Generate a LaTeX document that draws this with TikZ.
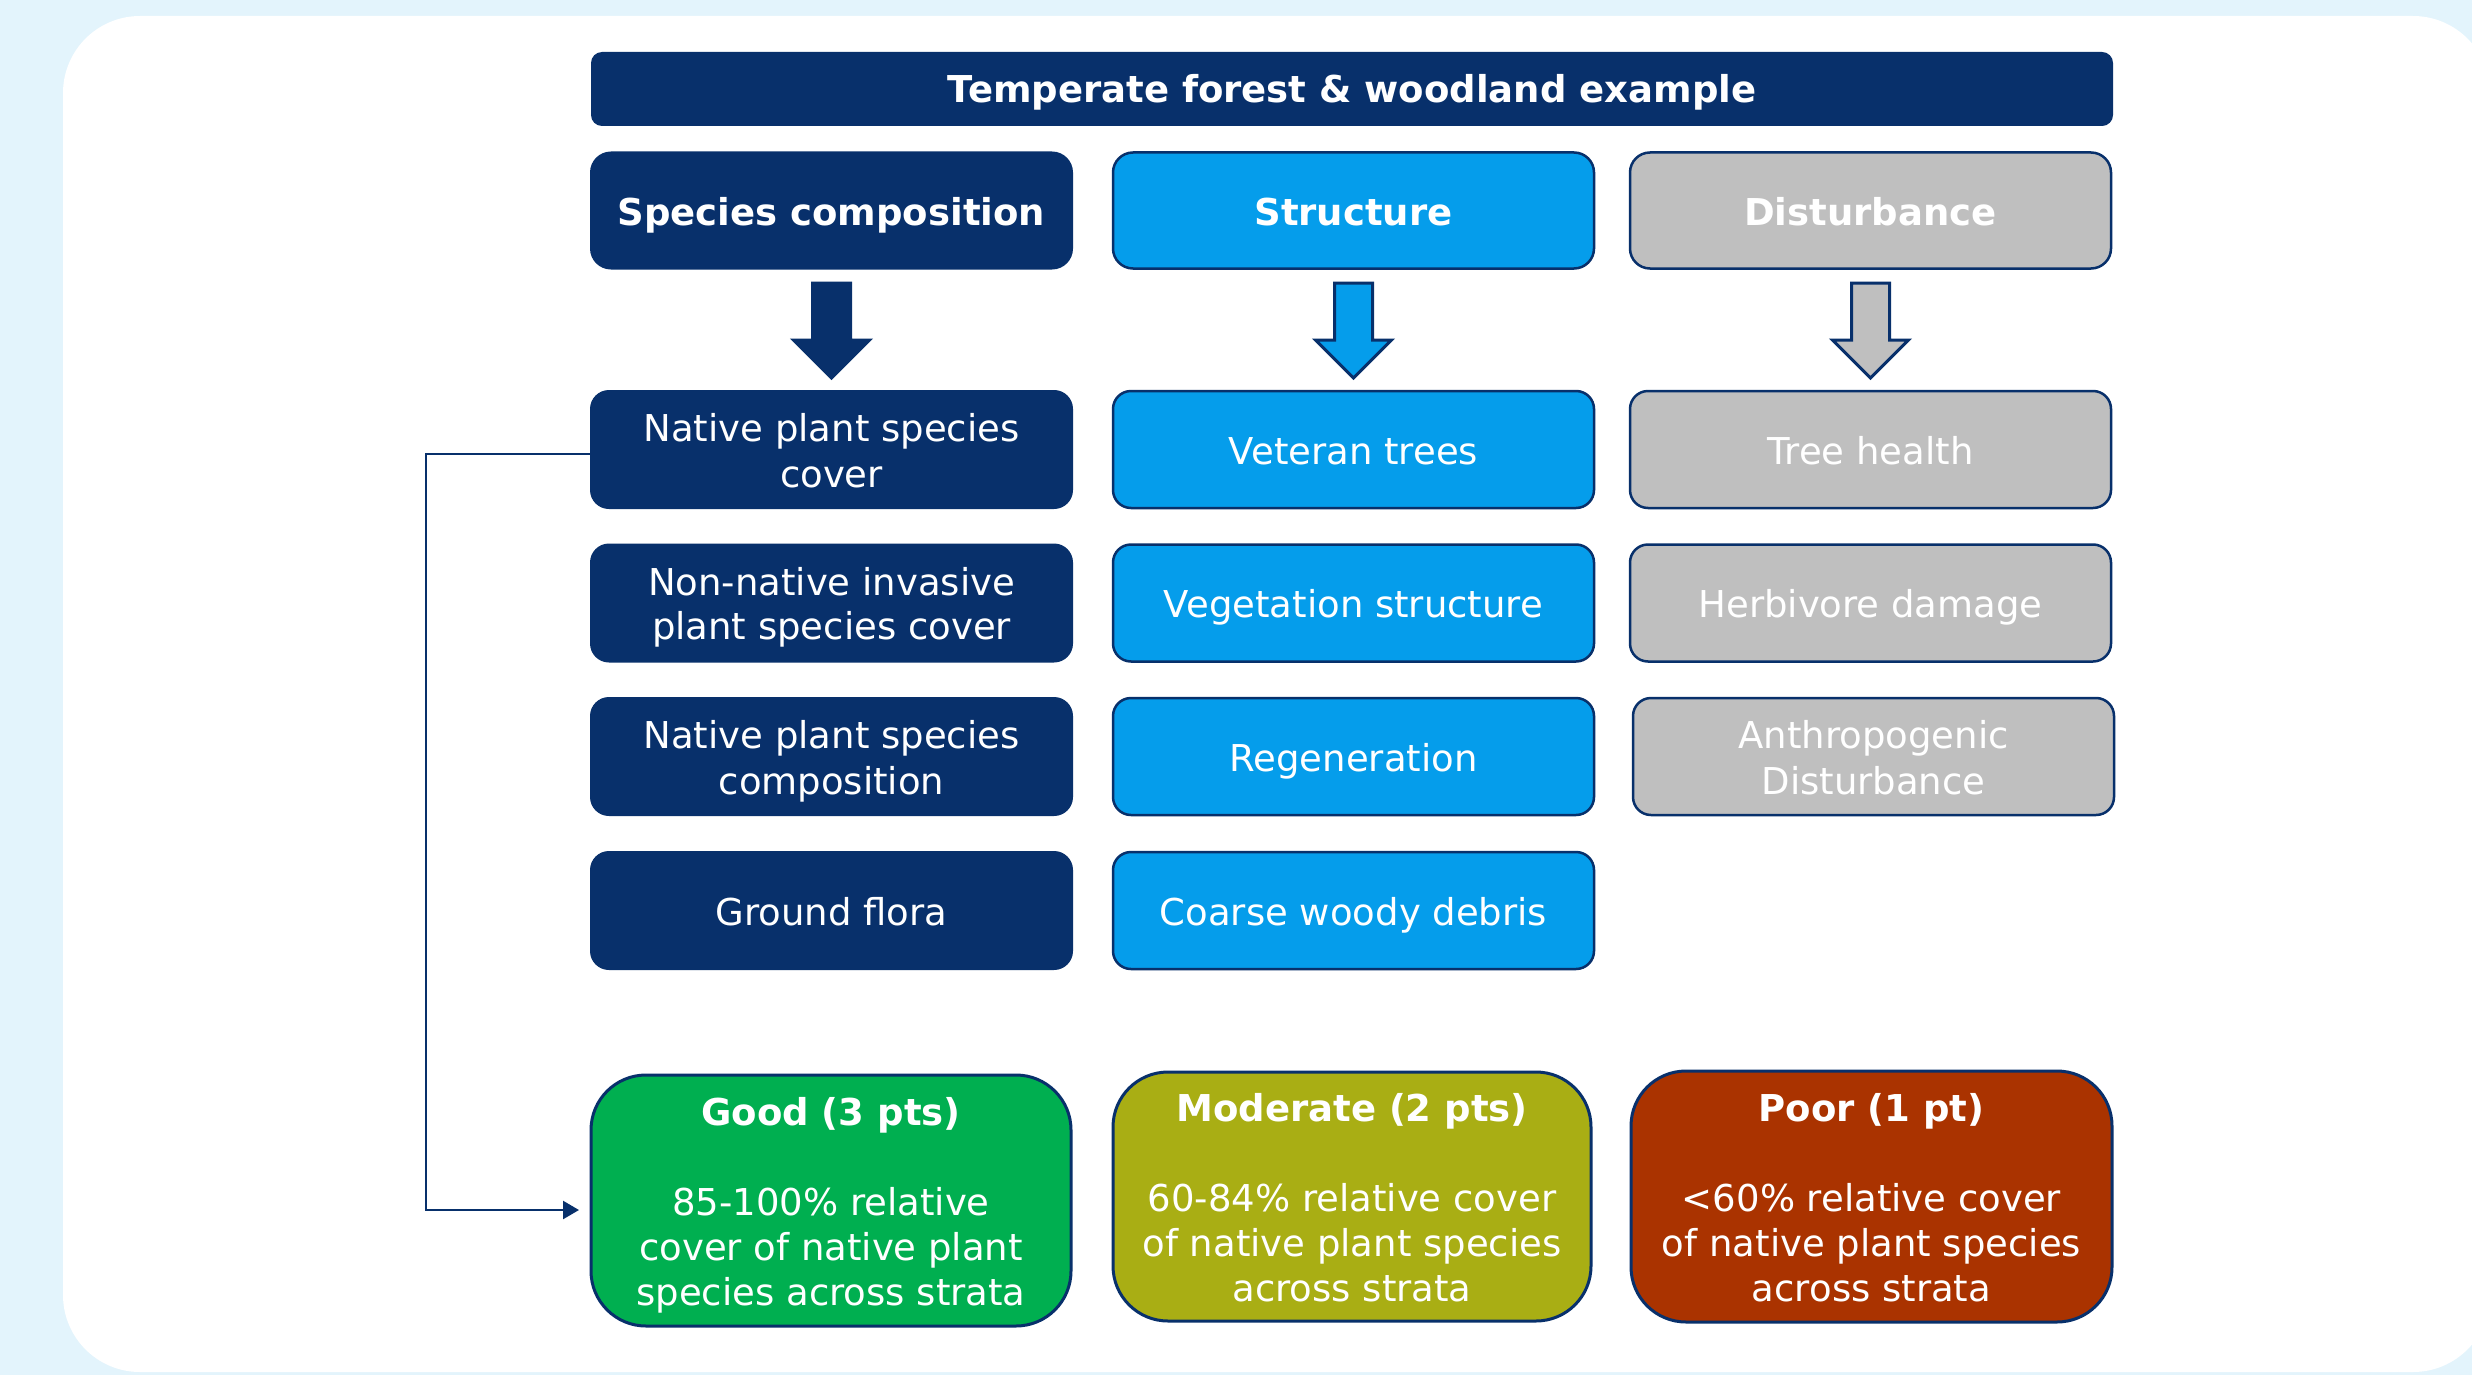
\documentclass[tikz,border=0pt]{standalone}
\usepackage{fontspec}
\setmainfont{DejaVu Sans}
\usetikzlibrary{arrows.meta,calc}
\definecolor{navy}{HTML}{08306B}
\definecolor{sky}{HTML}{059DEB}
\definecolor{greyfill}{HTML}{BFBFBF}
\definecolor{goodgreen}{HTML}{00AF50}
\definecolor{olive}{HTML}{A9AE14}
\definecolor{rust}{HTML}{AA3300}
\definecolor{bgblue}{HTML}{E3F4FC}
\newcommand\isv{\rule[-7pt]{0pt}{44pt}}
\newcommand\rsv{\rule[-8pt]{0pt}{45pt}}
\newcommand\tsv{\rule[-6.5pt]{0pt}{42pt}}
\tikzset{
  base/.style={align=center, text=white, inner sep=0pt, outer sep=0pt,
    font=\fontsize{37}{44}\selectfont, minimum width=481pt},
  headbox/.style={base, rounded corners=20pt, minimum height=116pt,
    font=\fontsize{37}{44}\selectfont\bfseries},
  itembox/.style={base, rounded corners=18pt, minimum height=117pt},
  navybox/.style={fill=navy, draw=navy, line width=2pt},
  skybox/.style={fill=sky, draw=navy, line width=2.5pt},
  greybox/.style={fill=greyfill, draw=navy, line width=2.5pt},
  resultbox/.style={base, rounded corners=55pt, draw=navy, line width=3pt,
    font=\fontsize{37}{45}\selectfont},
  blockarrow/.style={draw=navy, line width=3pt, line join=miter},
  conn/.style={draw=navy, line width=2.5pt, -{Triangle[length=16pt,width=18pt]}}
}
\begin{document}
\begin{tikzpicture}[x=1pt,y=-1pt]
\useasboundingbox (0,0) rectangle (2472,1375);
\clip (0,0) rectangle (2472,1375);
\fill[bgblue] (0,0) rectangle (2472,1375);
\fill[white, rounded corners=77pt] (63,16) rectangle (2490,1372);

% title
\node[base, fill=navy, rounded corners=11pt, minimum width=1522pt, minimum height=74pt,
  font=\fontsize{37}{42}\selectfont\bfseries] (title) at (1352,89) {\tsv Temperate forest \& woodland example};

% headers
\node[headbox, navybox] (h1) at (831.5,210.5) {\isv Species composition};
\node[headbox, skybox] (h2) at (1353.5,210.5) {\isv Structure};
\node[headbox, greybox] (h3) at (1870.5,210.5) {\isv Disturbance};

% block arrows
\foreach \h/\c in {h1/navy, h2/sky, h3/greyfill}{
  \filldraw[blockarrow, fill=\c]
    ([shift={(-19,14.5)}]\h.south) -- ([shift={(19,14.5)}]\h.south)
    -- ([shift={(19,71.5)}]\h.south) -- ([shift={(38,71.5)}]\h.south)
    -- ([shift={(0,109.5)}]\h.south) -- ([shift={(-38,71.5)}]\h.south)
    -- ([shift={(-19,71.5)}]\h.south) -- cycle;
}

% column 1
\node[itembox, navybox] (n1) at (831.5,449.5) {\isv Native plant species\\\isv cover};
\node[itembox, navybox] (n2) at (831.5,603) {\isv Non-native invasive\\\isv plant species cover};
\node[itembox, navybox] (n3) at (831.5,756.5) {\isv Native plant species\\\isv composition};
\node[itembox, navybox] (n4) at (831.5,910.5) {\isv Ground flora};

% column 2
\node[itembox, skybox] (s1) at (1353.5,449.5) {\isv Veteran trees};
\node[itembox, skybox] (s2) at (1353.5,603) {\isv Vegetation structure};
\node[itembox, skybox] (s3) at (1353.5,756.5) {\isv Regeneration};
\node[itembox, skybox] (s4) at (1353.5,910.5) {\isv Coarse woody debris};

% column 3
\node[itembox, greybox] (d1) at (1870.5,449.5) {\isv Tree health};
\node[itembox, greybox] (d2) at (1870.5,603) {\isv Herbivore damage};
\node[itembox, greybox] (d3) at (1873.5,756.5) {\isv Anthropogenic\\\isv Disturbance};

% results
\node[resultbox, fill=goodgreen, minimum width=480pt, minimum height=251pt] (good) at (831,1200.5)
  {\rsv\textbf{Good (3 pts)}\\\rsv\\\rsv 85-100\% relative\\\rsv cover of native plant\\\rsv species across strata};
\node[resultbox, fill=olive, minimum width=478pt, minimum height=249pt] (mod) at (1352,1196.5)
  {\rsv\textbf{Moderate (2 pts)}\\\rsv\\\rsv 60-84\% relative cover\\\rsv of native plant species\\\rsv across strata};
\node[resultbox, fill=rust, minimum width=481pt, minimum height=251pt] (poor) at (1871.5,1196.5)
  {\rsv\textbf{Poor (1 pt)}\\\rsv\\\rsv <60\% relative cover\\\rsv of native plant species\\\rsv across strata};

% connector
\draw[conn, shorten >=12pt] ([shift={(0,4.5)}]n1.west) -- ++(-165,0) |- ([shift={(0,9.5)}]good.west);
\end{tikzpicture}
\end{document}
